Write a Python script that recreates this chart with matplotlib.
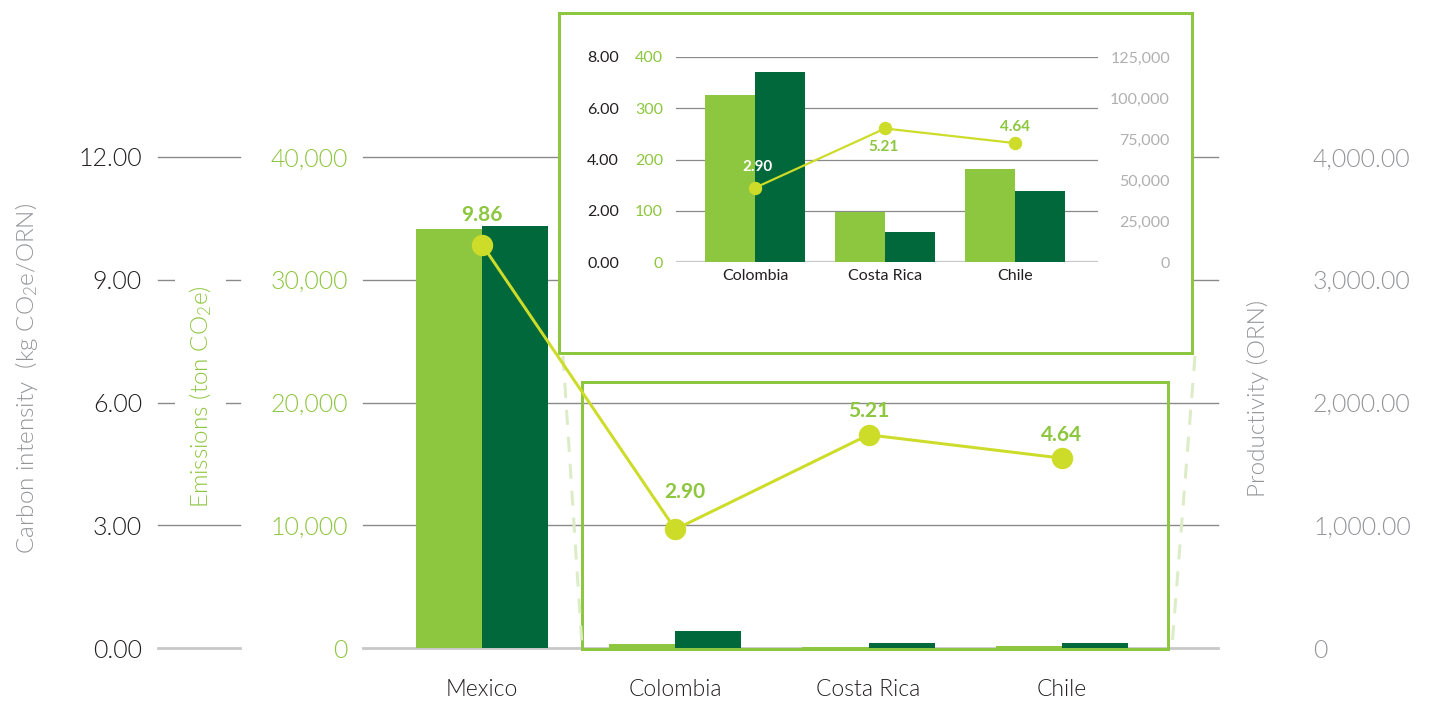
import matplotlib
matplotlib.use("Agg")
import matplotlib.pyplot as plt
import numpy as np
from matplotlib.patches import Rectangle
from matplotlib.lines import Line2D

# ---------------- data ----------------
countries = ["Mexico", "Colombia", "Costa Rica", "Chile"]
emissions = [34100, 325, 98, 182]            # ton CO2e
productivity = [3440, 138, 38, 40]           # ORN
intensity = [9.86, 2.90, 5.21, 4.64]         # kg CO2e/ORN

inset_countries = ["Colombia", "Costa Rica", "Chile"]
inset_emissions = [325, 98, 182]
inset_productivity = [116000, 18300, 43300]
inset_intensity = [2.90, 5.21, 4.64]

ci_ticks = [0, 3, 6, 9, 12]
em_ticks = [0, 10000, 20000, 30000, 40000]
pr_ticks = [0, 1000, 2000, 3000, 4000]
in_ci_ticks = [0, 2, 4, 6, 8]
in_em_ticks = [0, 100, 200, 300, 400]
in_pr_ticks = [0, 25000, 50000, 75000, 100000, 125000]

# ---------------- style ----------------
LIGHT = "#8DC63F"
DARK = "#00683A"
LINE = "#CDDC29"
GREY = "#939598"
TXT = "#231F20"
GRID = "#8a8a8a"
BASE = "#c8c8c8"

plt.rcParams["font.family"] = ["Lato", "DejaVu Sans"]
plt.rcParams["font.weight"] = 300
plt.rcParams["mathtext.fontset"] = "custom"
plt.rcParams["mathtext.rm"] = "Lato:weight=300"
plt.rcParams["mathtext.default"] = "regular"

W, H = 1433, 705
fig = plt.figure(figsize=(W / 100, H / 100), dpi=100)


def fx(px):
    return px / W


def fy(py):
    return 1 - py / H


def rect(l, t, r, b):
    return [fx(l), fy(b), fx(r) - fx(l), fy(t) - fy(b)]


PT = 0.72  # points per pixel at 100 dpi
WT = 300

# ---------------- main chart ----------------
pos = rect(363, 157, 1218, 648)
ax_em = fig.add_axes(pos)
ax_pr = ax_em.twinx()
ax_ci = ax_em.twinx()
ax_em.set_zorder(1)
ax_pr.set_zorder(2)
ax_ci.set_zorder(6)
ax_pr.patch.set_visible(False)
ax_ci.patch.set_visible(False)

x = np.arange(len(countries))
bw = 0.342
ax_em.bar(x - bw / 2, emissions, width=bw, color=LIGHT, zorder=3)
ax_pr.bar(x + bw / 2, productivity, width=bw, color=DARK, zorder=3)

ax_em.set_ylim(0, 40000)
ax_pr.set_ylim(0, 4000)
ax_ci.set_ylim(0, 12)
xl = (-0.616, 3.808)
ax_em.set_xlim(*xl)

# gridlines (two segments, extending into left margin)
segA = ((158 - 363) / 855, (240 - 363) / 855)
for t in em_ticks:
    c, lw = (BASE, 2.0) if t == 0 else (GRID, 1.0)
    ax_em.axhline(t, 0, 1, color=c, lw=lw, zorder=0.5, clip_on=False)
    ax_em.axhline(t, segA[0], segA[1], color=c, lw=lw, zorder=0.5, clip_on=False)

for a in (ax_em, ax_pr, ax_ci):
    for s in a.spines.values():
        s.set_visible(False)
    a.tick_params(length=0)

# CI axis on the left, far out
ax_ci.yaxis.tick_left()
ax_ci.yaxis.set_label_position("left")
ax_ci.set_yticks(ci_ticks)
ax_ci.set_yticklabels([f"{v:.2f}" for v in ci_ticks], fontsize=18, color=TXT,
                      fontweight=WT)
ax_ci.tick_params(axis="y", pad=(363 - 142) * PT)
ax_ci.set_ylabel("Carbon intensity  (kg CO$_2$e/ORN)", fontsize=17.5, color=GREY,
                 fontweight=WT)
ax_ci.yaxis.set_label_coords((40 - 363) / 855, (648 - 378) / 491)
ax_ci.set_xticks([])

ax_em.set_yticks(em_ticks)
ax_em.set_yticklabels([f"{v:,}" for v in em_ticks], fontsize=18, color=LIGHT,
                      fontweight=WT)
ax_em.tick_params(axis="y", pad=(363 - 348) * PT)
ax_em.set_ylabel("Emissions (ton CO$_2$e)", fontsize=17.5, color=LIGHT, fontweight=WT,
                 bbox=dict(facecolor="white", edgecolor="none", pad=9))
ax_em.yaxis.set_label_coords((214 - 363) / 855, (648 - 397) / 491)
ax_em.set_xticks(x)
ax_em.set_xticklabels(countries, fontsize=16.5, color=TXT, fontweight=WT)
ax_em.tick_params(axis="x", pad=(680 - 649) * PT)

ax_pr.set_yticks(pr_ticks)
ax_pr.set_yticklabels(["0"] + [f"{v:,.2f}" for v in pr_ticks[1:]], fontsize=18,
                      color=GREY, fontweight=WT)
ax_pr.tick_params(axis="y", pad=(1313 - 1218) * PT)
ax_pr.set_ylabel("Productivity (ORN)", fontsize=17.5, color=GREY, rotation=90,
                 fontweight=WT)
ax_pr.yaxis.set_label_coords((1247 - 363) / 855, (648 - 398) / 491)

# zoom rectangle + connectors (figure coordinates)
ax_ci.add_patch(Rectangle((fx(582), fy(649)), fx(1168) - fx(582), fy(382) - fy(649),
                          transform=fig.transFigure, fill=False, edgecolor=LIGHT,
                          lw=3 * PT, zorder=1, clip_on=False))
for (x0, y0, x1, y1) in [(563, 356, 582, 646), (1195, 356, 1172, 646)]:
    ax_ci.add_line(Line2D([fx(x0), fx(x1)], [fy(y0), fy(y1)], transform=fig.transFigure,
                          color="#dcecc6", lw=3 * PT, ls=(0, (5, 4)), zorder=1,
                          clip_on=False))

ax_ci.plot(x, intensity, color=LINE, lw=3 * PT, marker="o", markersize=20 * PT,
           zorder=5, clip_on=False)
lab_dy = [21, 27, 17, 17]
lab_dx = [0, 7, 0, 0]
for xi, v, dx, dy in zip(x, intensity, lab_dx, lab_dy):
    ax_ci.annotate(f"{v:.2f}", (xi, v), xytext=(dx, dy), textcoords="offset points",
                   ha="center", va="center", fontsize=15, fontweight="bold",
                   color=LIGHT, zorder=6)

# ---------------- inset ----------------
ipos = rect(676, 57, 1098, 262)
in_em = fig.add_axes(ipos)
in_pr = in_em.twinx()
in_ci = in_em.twinx()
for a in (in_em, in_pr, in_ci):
    a.set_zorder(4)
    a.patch.set_visible(False)
    for s in a.spines.values():
        s.set_visible(False)
    a.tick_params(length=0)

in_em.add_patch(Rectangle((fx(559), fy(353)), fx(1192) - fx(559), fy(13) - fy(353),
                          transform=fig.transFigure, facecolor="white",
                          edgecolor=LIGHT, lw=3 * PT, zorder=0.1, clip_on=False))

xi_ = np.arange(len(inset_countries))
ibw = 0.385
in_em.bar(xi_ - ibw / 2, inset_emissions, width=ibw, color=LIGHT, zorder=3)
in_pr.bar(xi_ + ibw / 2, inset_productivity, width=ibw, color=DARK, zorder=3)
in_em.set_ylim(0, 400)
in_pr.set_ylim(0, 125000)
in_ci.set_ylim(0, 8)
in_em.set_xlim(-0.61, 2.64)

for t in in_em_ticks:
    c, lw = (BASE, 1.6) if t == 0 else (GRID, 0.9)
    in_em.axhline(t, color=c, lw=lw, zorder=0.5)

in_ci.yaxis.tick_left()
in_ci.set_yticks(in_ci_ticks)
in_ci.set_yticklabels([f"{v:.2f}" for v in in_ci_ticks], fontsize=11.5, color=TXT,
                      fontweight="normal")
in_ci.tick_params(axis="y", pad=(676 - 619) * PT)

in_em.set_yticks(in_em_ticks)
in_em.set_yticklabels([f"{v}" for v in in_em_ticks], fontsize=11.5, color=LIGHT,
                      fontweight="normal")
in_em.tick_params(axis="y", pad=(676 - 663) * PT)
in_em.set_xticks(xi_)
in_em.set_xticklabels(inset_countries, fontsize=11.5, color=TXT, fontweight="normal")
in_em.tick_params(axis="x", pad=(270 - 263) * PT)

in_pr.set_yticks(in_pr_ticks)
in_pr.set_yticklabels([f"{v:,}" for v in in_pr_ticks], fontsize=11.5, color="#b0b0b0",
                      ha="right", fontweight="normal")
in_pr.tick_params(axis="y", pad=(1170 - 1098) * PT)

in_ci.plot(xi_, inset_intensity, color=LINE, lw=2.2 * PT, marker="o",
           markersize=12 * PT, zorder=5)
in_dy = [15, -13, 11.5]
in_dx = [2, -1, 0]
in_col = ["white", LIGHT, LIGHT]
for xx, v, dx, dy, c in zip(xi_, inset_intensity, in_dx, in_dy, in_col):
    in_ci.annotate(f"{v:.2f}", (xx, v), xytext=(dx, dy), textcoords="offset points",
                   ha="center", va="center", fontsize=11, fontweight="bold",
                   color=c, zorder=6)

fig.savefig("out.png", dpi=100)
